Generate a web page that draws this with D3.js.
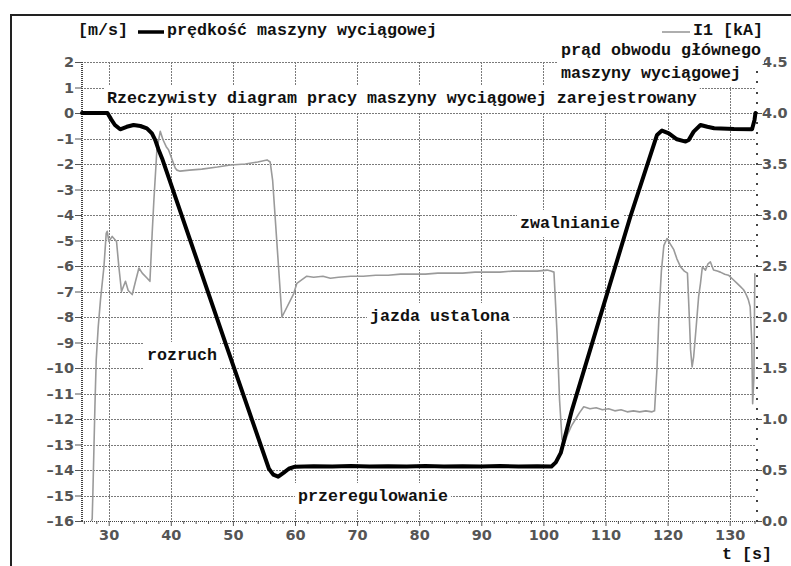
<!DOCTYPE html>
<html>
<head>
<meta charset="utf-8">
<script src="https://cdn.jsdelivr.net/npm/d3@7"></script>
<style>
  html, body { margin: 0; padding: 0; background: #fff; }
  svg { display: block; }
  .mono { font-family: "Liberation Mono", "DejaVu Sans Mono", monospace; font-weight: bold; font-size: 16.67px; fill: #111; }
  .dot { shape-rendering: crispEdges; }
</style>
</head>
<body>
<svg id="chart" width="791" height="566"></svg>
<script>
// Winding engine speed [m/s] over time [s]
const speedData = [
  [25.7, 0], [29.8, 0], [30.4, -0.25], [31.0, -0.47], [31.85, -0.64], [32.9, -0.54],
  [34.0, -0.47], [35.1, -0.51], [36.15, -0.6], [36.96, -0.8], [37.5, -1.06], [38.0, -1.42],
  [38.6, -1.78], [49.0, -9.16], [55.8, -13.95], [56.5, -14.18], [57.3, -14.26], [58.2, -14.1],
  [59.0, -13.95], [60.0, -13.87], [63, -13.85], [66, -13.86], [69, -13.84], [72, -13.86],
  [75, -13.85], [78, -13.86], [81, -13.84], [84, -13.86], [87, -13.85], [90, -13.86],
  [93, -13.84], [96, -13.86], [99, -13.85], [101.3, -13.86], [102.0, -13.7], [102.8, -13.33],
  [104.6, -11.65], [114.0, -4.07], [118.3, -0.86], [119.1, -0.69], [120.2, -0.8], [121.5, -1.03],
  [122.9, -1.12], [123.4, -1.06], [124.2, -0.73], [125.3, -0.47], [126.4, -0.54], [127.5, -0.6],
  [130.7, -0.63], [133.6, -0.64], [134.0, -0.27], [134.15, 0]
];

// Main circuit current I1 [kA] over time [s]
const currentData = [
  [27.2, 0], [27.34, 0.02], [27.45, 0.27], [27.78, 1.12], [27.99, 1.58], [28.31, 1.9],
  [28.68, 2.17], [29.23, 2.49], [29.6, 2.82], [29.76, 2.84], [30.03, 2.74], [30.56, 2.79],
  [31.26, 2.74], [31.64, 2.49], [32.06, 2.25], [32.7, 2.35], [33.14, 2.26], [33.79, 2.22],
  [34.32, 2.35], [34.87, 2.48], [35.4, 2.43], [36.2, 2.38], [36.64, 2.35], [37.0, 2.82],
  [37.28, 3.15], [37.76, 3.64], [38.3, 3.82], [38.73, 3.74], [39.26, 3.67], [39.63, 3.64],
  [40.71, 3.46], [40.99, 3.44], [41.5, 3.43], [43, 3.44], [45, 3.45], [47.5, 3.47],
  [49.6, 3.49], [52, 3.5], [54, 3.52], [55.5, 3.54], [56.0, 3.52], [56.4, 3.34],
  [57.9, 2.0], [59.8, 2.23], [60.3, 2.33], [61.9, 2.4], [63, 2.39], [64.5, 2.4],
  [65.7, 2.38], [67, 2.39], [69, 2.4], [71, 2.4], [73, 2.41], [75, 2.41], [77, 2.42],
  [79, 2.42], [81, 2.42], [83, 2.43], [85, 2.43], [87, 2.43], [89, 2.44], [91, 2.44],
  [93, 2.44], [95, 2.45], [97, 2.45], [99, 2.45], [100.6, 2.46], [101.2, 2.45],
  [101.7, 2.44], [102.2, 1.84], [102.6, 1.19], [103.0, 0.8], [103.4, 0.76], [103.9, 0.85],
  [104.5, 0.93], [105.1, 0.99], [105.8, 1.06], [106.5, 1.12], [107.5, 1.1], [108.5, 1.11],
  [109.5, 1.09], [110.5, 1.1], [111.5, 1.08], [112.5, 1.09], [113.5, 1.07], [114.5, 1.08],
  [115.5, 1.07], [116.5, 1.08], [117.5, 1.07], [117.9, 1.08], [118.3, 1.5], [118.6, 2.0],
  [119.0, 2.45], [119.4, 2.7], [119.9, 2.77], [120.4, 2.72], [121.0, 2.66], [121.5, 2.57],
  [122.1, 2.49], [122.7, 2.45], [123.2, 2.43], [123.5, 2.0], [123.7, 1.68], [123.95, 1.51],
  [124.2, 1.61], [124.6, 1.9], [125.0, 2.2], [125.3, 2.33], [125.6, 2.49], [126.1, 2.46],
  [126.5, 2.52], [126.9, 2.54], [127.4, 2.46], [128.0, 2.45], [128.5, 2.44], [129.2, 2.42],
  [129.8, 2.41], [130.5, 2.37], [131.2, 2.33], [131.7, 2.3], [132.2, 2.27], [132.5, 2.24],
  [132.8, 2.2], [133.0, 2.17], [133.3, 2.1], [133.55, 1.77], [133.7, 1.15], [133.9, 1.4],
  [134.05, 2.43]
];

const speedTicks = [2, 1, 0, -1, -2, -3, -4, -5, -6, -7, -8, -9, -10, -11, -12, -13, -14, -15, -16];
const currentTicks = [0, 0.5, 1.0, 1.5, 2.0, 2.5, 3.0, 3.5, 4.0, 4.5];
const timeTicks = [30, 40, 50, 60, 70, 80, 90, 100, 110, 120, 130];

const svg = d3.select("#chart");
const plotLeft = 82, plotRight = 757, plotTop = 62, plotBottom = 521;

const x = d3.scaleLinear().domain([25.7, 134.4]).range([plotLeft, plotRight]);
const yL = d3.scaleLinear().domain([-16, 2]).range([plotBottom, plotTop]);
const yR = d3.scaleLinear().domain([0, 4.5]).range([plotBottom, plotTop]);

// outer frame (left and top edges)
svg.append("path")
  .attr("d", "M11,566 V15 H791")
  .attr("fill", "none").attr("stroke", "#222").attr("stroke-width", 2);

// dotted grid, one small dash per dot
const gridDots = [];
speedTicks.filter(d => d > -16).forEach(v => {
  const gy = Math.round(yL(v));
  for (let gx = plotLeft + 2; gx < plotRight - 1; gx += 3) gridDots.push([gx, gy, 2, 1]);
});
timeTicks.forEach(t => {
  const gx = Math.round(x(t));
  for (let gy = plotTop; gy < plotBottom - 1; gy += 3) gridDots.push([gx, gy, 1, 2]);
});
svg.append("g").attr("fill", "#7a7a7a").selectAll("rect").data(gridDots).join("rect")
  .attr("class", "dot").attr("x", d => d[0]).attr("y", d => d[1])
  .attr("width", d => d[2]).attr("height", d => d[3]);

// axes
const tickFont = g => g.attr("font-family", "'DejaVu Sans', sans-serif").attr("font-size", 14.5)
  .attr("font-weight", "bold")
  .call(s => s.selectAll("text").attr("fill", "#555"))
  .call(s => s.selectAll("line").attr("stroke", "#555"))
  .call(s => s.select(".domain").remove());

svg.append("g").attr("transform", `translate(${plotLeft},0)`)
  .call(d3.axisLeft(yL).tickValues(speedTicks).tickSize(7).tickPadding(1)
    .tickFormat(d => d < 0 ? "\u2013" + Math.abs(d) : String(d)))
  .call(tickFont);

svg.append("g").attr("transform", `translate(${plotRight},0)`)
  .call(d3.axisRight(yR).tickValues(currentTicks).tickSize(5).tickPadding(0)
    .tickFormat(d3.format(".1f")))
  .call(tickFont);

svg.append("g").attr("transform", `translate(0,${plotBottom})`)
  .call(d3.axisBottom(x).tickValues(timeTicks).tickSize(5).tickPadding(4).tickFormat(d3.format("d")))
  .call(tickFont);

svg.append("g").attr("transform", `translate(0,${plotBottom})`)
  .call(d3.axisBottom(x).tickValues(d3.range(26, 135, 2).filter(d => d % 10 !== 0)).tickSize(3).tickFormat(""))
  .call(tickFont);

// axis rules: dotted left and bottom edges, sparse dots on the right edge
const axisDots = [];
for (let gy = plotTop; gy <= plotBottom; gy += 2) axisDots.push([plotLeft - 1, gy, 2, 1]);
for (let gx = plotLeft; gx <= plotRight; gx += 2) axisDots.push([gx, plotBottom, 1, 1]);
d3.range(0, 46).forEach(i => axisDots.push([plotRight - 1, Math.round(yR(i / 10)) - 1, 2, 2]));
svg.append("g").attr("fill", "#444").selectAll("rect").data(axisDots).join("rect")
  .attr("class", "dot").attr("x", d => d[0]).attr("y", d => d[1]).attr("width", d => d[2]).attr("height", d => d[3]);

// text labels with white knock-out backgrounds
const boxLayer = svg.append("g");
const seriesLayer = svg.append("g");
const textLayer = svg.append("g");

function label(txt, tx, ty, padX = 3, padY = 4) {
  const t = textLayer.append("text").attr("class", "mono").attr("x", tx).attr("y", ty).text(txt);
  const b = t.node().getBBox();
  boxLayer.append("rect").attr("x", b.x - padX).attr("y", b.y - padY)
    .attr("width", b.width + 2 * padX).attr("height", b.height + 2 * padY).attr("fill", "#fff");
  return t;
}

label("Rzeczywisty diagram pracy maszyny wyciągowej zarejestrowany", 107, 103);
label("prąd obwodu głównego", 561, 55);
label("maszyny wyciągowej", 561, 78);
label("rozruch", 147, 360);
label("jazda ustalona", 370, 321);
label("zwalnianie", 520, 228);
label("przeregulowanie", 298, 501);

// legend
textLayer.append("text").attr("class", "mono").attr("x", 78).attr("y", 35).text("[m/s]");
textLayer.append("line").attr("x1", 138).attr("x2", 164).attr("y1", 32).attr("y2", 32)
  .attr("stroke", "#000").attr("stroke-width", 3.5);
textLayer.append("text").attr("class", "mono").attr("x", 167).attr("y", 35).text("prędkość maszyny wyciągowej");
textLayer.append("line").attr("x1", 662).attr("x2", 690).attr("y1", 32).attr("y2", 32)
  .attr("stroke", "#9a9a9a").attr("stroke-width", 1.6);
textLayer.append("text").attr("class", "mono").attr("x", 693).attr("y", 35).text("I1 [kA]");
textLayer.append("text").attr("class", "mono").attr("x", 722).attr("y", 559).text("t [s]");

// series
seriesLayer.append("path").datum(currentData)
  .attr("d", d3.line().x(d => x(d[0])).y(d => yR(d[1])))
  .attr("fill", "none").attr("stroke", "#9a9a9a").attr("stroke-width", 1.6).attr("stroke-linejoin", "round");
seriesLayer.append("path").datum(speedData)
  .attr("d", d3.line().x(d => x(d[0])).y(d => yL(d[1])))
  .attr("fill", "none").attr("stroke", "#000").attr("stroke-width", 4)
  .attr("stroke-linejoin", "round").attr("stroke-linecap", "round");
</script>
</body>
</html>
